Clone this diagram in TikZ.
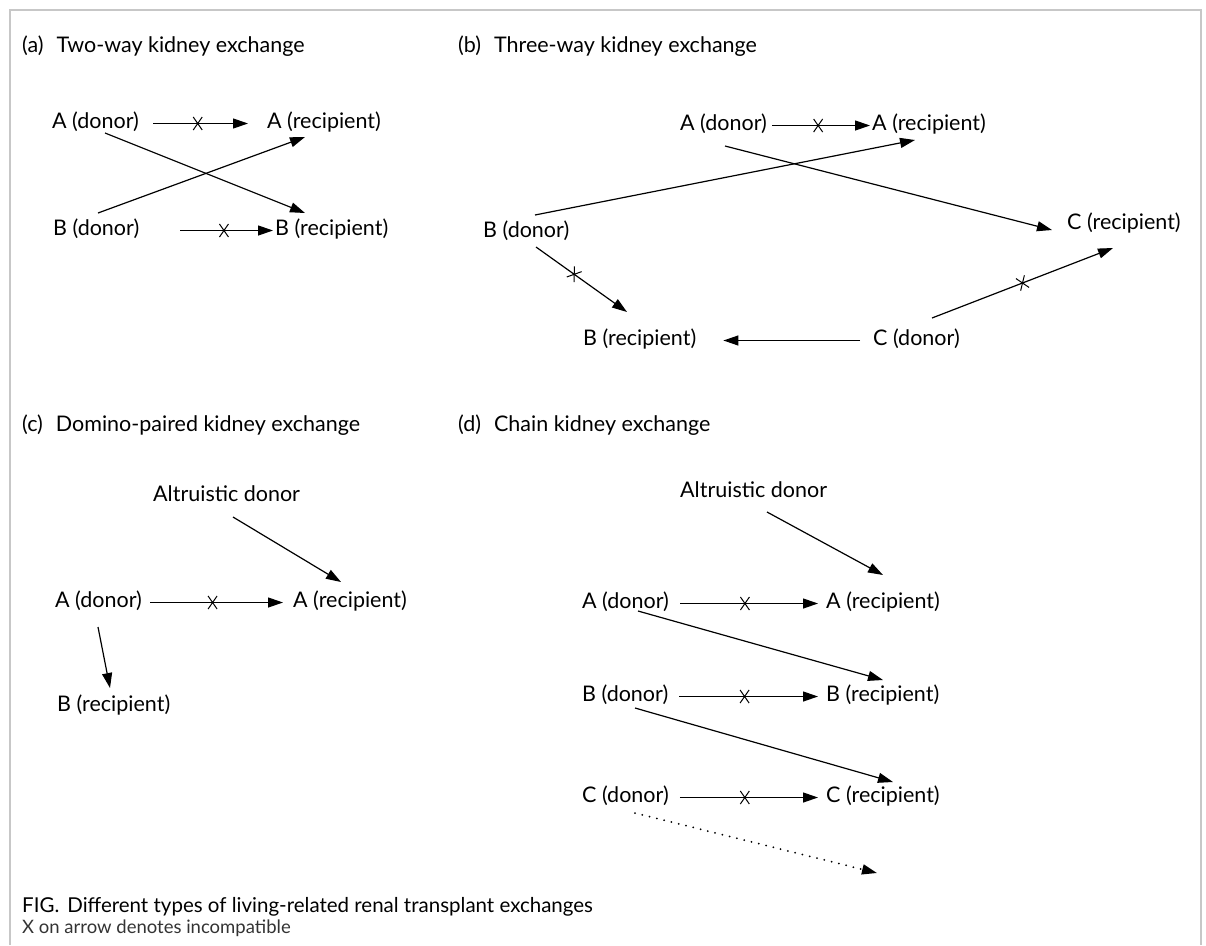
\documentclass[tikz,border=0pt]{standalone}
\usepackage{fontspec}
\setmainfont{Lato}
\usepackage{tikz}
\usetikzlibrary{arrows.meta,shapes.misc}

\begin{document}
\begin{tikzpicture}[
  x=1pt,y=-1pt,
  >={Triangle[length=15pt,width=10pt]},
  every node/.style={font=\fontsize{21.5}{25}\selectfont},
  txt/.style={anchor=base west,inner sep=0pt,text height=14.5pt,text depth=5.5pt},
  hdr/.style={anchor=base west,inner sep=0pt},
  figcap/.style={anchor=base west,inner sep=0pt},
  link/.style={->,line width=1.2pt},
  later/.style={->,line width=2pt,line cap=round,dash pattern=on 0pt off 7.5pt},
  xmark/.style={draw,cross out,sloped,pos=.47,minimum width=8pt,minimum height=12pt,
                inner sep=0pt,line width=1pt},
  frame/.style={draw=black!22,line width=1.5pt}
]
\useasboundingbox (0,0) rectangle (1206,945);
\draw[frame] (10,945) -- (10,10) -- (1201,10) -- (1201,945);

%% (a) two-way
\node[hdr] (ta) at (22,52) {(a)\hspace{13pt}Two-way kidney exchange};
\node[txt] (aD) at (52,128)  {A (donor)};
\node[txt] (aR) at (267,128) {A (recipient)};
\node[txt] (bD) at (53,235)  {B (donor)};
\node[txt] (bR) at (275,235) {B (recipient)};

\draw[link] ([xshift=14pt]aD.east) -- node[xmark]{} ([xshift=-19pt]aR.west);
\draw[link] ([xshift=41pt]bD.east) -- node[xmark]{} ([xshift=-2pt]bR.west);
\draw[link] ([shift={(53,5)}]aD.base west)  -- ([shift={(30,-22)}]bR.base west);
\draw[link] ([shift={(45,-22)}]bD.base west) -- ([shift={(38,9)}]aR.base west);

%% (b) three-way
\node[hdr] (tb) at (458,52) {(b)\hspace{13pt}Three-way kidney exchange};
\node[txt] (bAD) at (680,130)  {A (donor)};
\node[txt] (bAR) at (872,130)  {A (recipient)};
\node[txt] (bBD) at (483,237)  {B (donor)};
\node[txt] (bCR) at (1067,229) {C (recipient)};
\node[txt] (bBR) at (583,345)  {B (recipient)};
\node[txt] (bCD) at (873,345)  {C (donor)};

\draw[link] ([xshift=5pt]bAD.east) -- node[xmark]{} ([xshift=-2pt]bAR.west);
\draw[link] ([shift={(45,16)}]bAD.base west)  -- ([shift={(-15,1)}]bCR.base west);
\draw[link] ([shift={(52,-22)}]bBD.base west) -- ([shift={(43,10)}]bAR.base west);
\draw[link] ([shift={(53,10)}]bBD.base west)  -- node[xmark,pos=.42]{} ([shift={(44,-33)}]bBR.base west);
\draw[link] ([xshift=-13pt]bCD.west) -- ([xshift=27pt]bBR.east);
\draw[link] ([shift={(59,-27)}]bCD.base west) -- node[xmark,pos=.5]{} ([shift={(46,19)}]bCR.base west);

%% (c) domino-paired
\node[hdr] (tc) at (22,431) {(c)\hspace{13pt}Domino-paired kidney exchange};
\node[txt] (cAlt) at (153,501) {Altruistic donor};
\node[txt] (cAD)  at (55,607)  {A (donor)};
\node[txt] (cAR)  at (293,607) {A (recipient)};
\node[txt] (cBR)  at (57,711)  {B (recipient)};

\draw[link] ([shift={(80,16)}]cAlt.base west) -- ([shift={(48,-25)}]cAR.base west);
\draw[link] ([xshift=8pt]cAD.east) -- node[xmark]{} ([xshift=-10pt]cAR.west);
\draw[link] ([shift={(43,20)}]cAD.base west) -- ([shift={(53,-23)}]cBR.base west);

%% (d) chain
\node[hdr] (td) at (458,431) {(d)\hspace{13pt}Chain kidney exchange};
\node[txt] (dAlt) at (680,497) {Altruistic donor};
\node[txt] (dAD)  at (582,608) {A (donor)};
\node[txt] (dAR)  at (826,608) {A (recipient)};
\node[txt] (dBD)  at (582,701) {B (donor)};
\node[txt] (dBR)  at (826,701) {B (recipient)};
\node[txt] (dCD)  at (582,802) {C (donor)};
\node[txt] (dCR)  at (826,802) {C (recipient)};
\coordinate (dNext) at (877,873);

\draw[link] ([shift={(87,15)}]dAlt.base west) -- ([shift={(57,-33)}]dAR.base west);
\draw[link] ([xshift=11pt]dAD.east) -- node[xmark]{} ([xshift=-8pt]dAR.west);
\draw[link] ([xshift=11pt]dBD.east) -- node[xmark]{} ([xshift=-8pt]dBR.west);
\draw[link] ([xshift=11pt]dCD.east) -- node[xmark]{} ([xshift=-8pt]dCR.west);
\draw[link] ([shift={(56,3)}]dAD.base west)  -- ([shift={(57,-21)}]dBR.base west);
\draw[link] ([shift={(53,7)}]dBD.base west)  -- ([shift={(67,-20)}]dCR.base west);
\draw[later] ([shift={(53,11)}]dCD.base west) -- (dNext);

%% caption
\node[figcap,font=\fontsize{20.5}{24}\selectfont] (cap1) at (22,912) {FIG.\hspace{8pt}Different types of living-related renal transplant exchanges};
\node[figcap,font=\fontsize{18.5}{22}\selectfont,text=black!80] (cap2) at (22,933) {X on arrow denotes incompatible};
\end{tikzpicture}
\end{document}
